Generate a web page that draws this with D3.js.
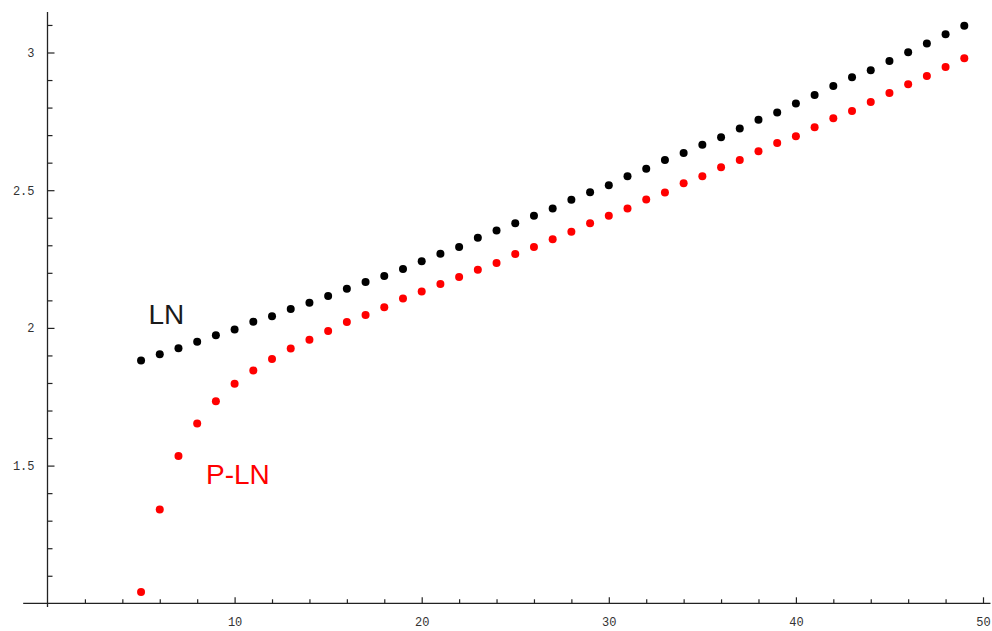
<!DOCTYPE html>
<html>
<head>
<meta charset="utf-8">
<script src="https://cdn.jsdelivr.net/npm/d3@7"></script>
<style>
  body { margin: 0; background: #fff; }
  .tick text { font-family: "Liberation Mono", "DejaVu Sans Mono", monospace; font-size: 12px; fill: #333; }
  .tick line { stroke: #222; stroke-width: 1.2; }
</style>
</head>
<body>
<div id="chart"></div>
<script>
const nValues = d3.range(5, 50);

// n = 5 .. 49
const lnValues = [
  1.882, 1.904, 1.926, 1.950, 1.973, 1.994, 2.022, 2.042, 2.069, 2.091,
  2.116, 2.142, 2.167, 2.188, 2.214, 2.242, 2.269, 2.294, 2.327, 2.354,
  2.380, 2.407, 2.434, 2.465, 2.493, 2.518, 2.551, 2.578, 2.610, 2.635,
  2.665, 2.692, 2.724, 2.756, 2.782, 2.815, 2.846, 2.878, 2.910, 2.936,
  2.969, 3.001, 3.033, 3.066, 3.097
];
const plnValues = [
  1.041, 1.341, 1.535, 1.653, 1.734, 1.797, 1.845, 1.887, 1.925, 1.957,
  1.989, 2.021, 2.047, 2.075, 2.107, 2.132, 2.159, 2.185, 2.211, 2.236,
  2.268, 2.294, 2.322, 2.349, 2.380, 2.407, 2.434, 2.466, 2.492, 2.525,
  2.551, 2.583, 2.610, 2.641, 2.671, 2.696, 2.729, 2.761, 2.788, 2.820,
  2.853, 2.885, 2.915, 2.947, 2.979
];

const xTicks = d3.range(2, 51, 2);
const xLabels = [10, 20, 30, 40, 50];
const yTicks = d3.range(11, 32).map(d => d / 10);
const yLabels = [1.5, 2, 2.5, 3];

const width = 992, height = 631;

const svg = d3.select("#chart").append("svg")
  .attr("width", width)
  .attr("height", height);

const x = d3.scaleLinear().domain([0, 50]).range([47.5, 983]);
const y = d3.scaleLinear().domain([1, 3]).range([603.3, 52.5]);

// x axis
const xAxis = svg.append("g")
  .attr("transform", `translate(0,${y(1)})`)
  .call(d3.axisBottom(x)
    .tickValues(xTicks)
    .tickSize(-4)
    .tickPadding(14)
    .tickFormat(d => xLabels.includes(d) ? d : ""));
xAxis.select(".domain").remove();
xAxis.selectAll(".tick line")
  .attr("y2", d => xLabels.includes(d) ? -6 : -4);

svg.append("line")
  .attr("x1", x(-1.3)).attr("x2", x(50.4))
  .attr("y1", y(1)).attr("y2", y(1))
  .attr("stroke", "#222").attr("stroke-width", 1.3);

// y axis
const yAxis = svg.append("g")
  .attr("transform", `translate(${x(0)},0)`)
  .call(d3.axisLeft(y)
    .tickValues(yTicks)
    .tickSize(-5)
    .tickPadding(13)
    .tickFormat(d => yLabels.includes(d) ? d : ""));
yAxis.select(".domain").remove();
yAxis.selectAll(".tick line")
  .attr("x2", d => yLabels.includes(d) ? 7 : 5);

svg.append("line")
  .attr("x1", x(0)).attr("x2", x(0))
  .attr("y1", y(3.147)).attr("y2", y(0.987))
  .attr("stroke", "#222").attr("stroke-width", 1.3);

// points
svg.append("g").selectAll("circle")
  .data(nValues.map((n, i) => ({ n, v: lnValues[i] })))
  .enter().append("circle")
  .attr("cx", d => x(d.n))
  .attr("cy", d => y(d.v))
  .attr("r", 4)
  .attr("fill", "#000");

svg.append("g").selectAll("circle")
  .data(nValues.map((n, i) => ({ n, v: plnValues[i] })))
  .enter().append("circle")
  .attr("cx", d => x(d.n))
  .attr("cy", d => y(d.v))
  .attr("r", 4)
  .attr("fill", "#ff0000");

// labels
svg.append("text")
  .attr("x", 148.5).attr("y", 324)
  .style("font-family", "'Liberation Sans', Arial, sans-serif")
  .style("font-size", "28px")
  .attr("fill", "#1a1a1a")
  .text("LN");

svg.append("text")
  .attr("x", 206).attr("y", 484)
  .style("font-family", "'Liberation Sans', Arial, sans-serif")
  .style("font-size", "28px")
  .attr("fill", "#ff0000")
  .text("P-LN");
</script>
</body>
</html>
